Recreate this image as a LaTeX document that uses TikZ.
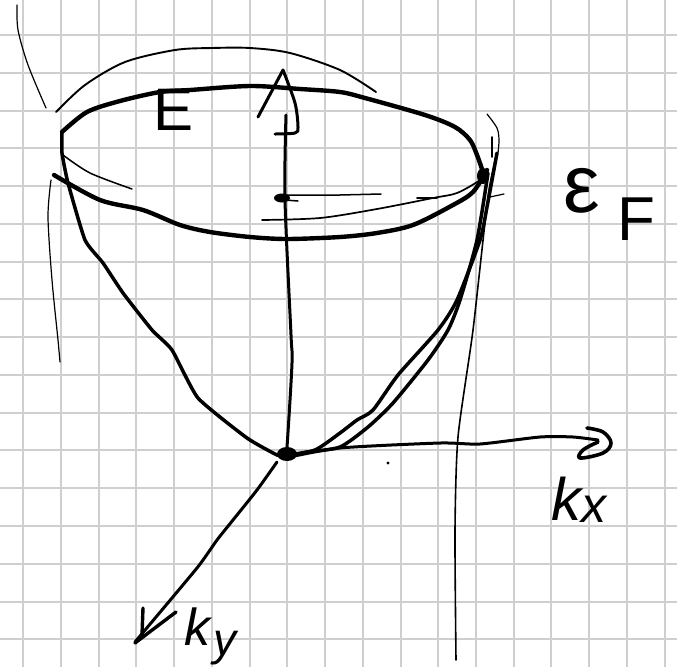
\documentclass[tikz,border=0pt]{standalone}
\usepackage{fontspec}
\setmainfont{Liberation Sans}
\usetikzlibrary{positioning}
\newcommand{\hand}[1]{\fontsize{#1}{#1}\selectfont}

\begin{document}
\begin{tikzpicture}[
  x=1pt, y=-1pt,
  gridline/.style={draw=black!19, line width=2pt},
  heavy/.style={line width=4.4pt, line cap=round, line join=round},
  cupline/.style={line width=3.5pt, line cap=round, line join=round},
  axisline/.style={line width=3pt, line cap=round, line join=round},
  wall/.style={line width=1.9pt, line cap=round},
  hair/.style={line width=1.2pt, line cap=round},
  lab/.style={inner sep=0pt, anchor=base},
]
\useasboundingbox (0,0) rectangle (677,667);

% ---------- squared paper ----------
\foreach \gx in {0,...,17} {
  \draw[gridline] ({23.2+\gx*37.73},0) -- ({23.2+\gx*37.73},667);
}
\foreach \gy in {0,...,16} {
  \draw[gridline] (0,{35+\gy*37.77}) -- (677,{35+\gy*37.77});
}

% ---------- the axes ----------
\draw[axisline] plot[smooth] coordinates {(286,115) (285,200) (291,335) (292,363) (287,447) (285,458)};
\draw[axisline] (258,117) -- (283,70);
\draw[axisline] plot[smooth, tension=0.5] coordinates {(283,70) (295,103) (298,127) (295,133) (275,134)};
\draw[axisline] plot[smooth, tension=0.4] coordinates {(285,458) (340,448) (440,443) (480,444) (540,437) (573,437) (598,440)};
\draw[axisline, line width=3.6pt] plot[smooth, tension=0.6] coordinates {(587,428) (603,432) (611,443) (603,453) (580,458) (583,450) (598,442)};
\draw[axisline] plot[smooth, tension=0.3] coordinates {(277,462) (257,490) (233,520) (217,540) (197,568) (135,642)};
\draw[axisline, line width=3.4pt] (143,608) -- (142,635) -- (135,643) -- (176,612);

% ---------- the cup ----------
\draw[heavy] plot[smooth, tension=0.5] coordinates {(62,132) (87,112) (120,101) (160,92) (190,90) (250,86)
  (300,89) (340,92) (365,98) (425,115) (455,127) (470,140) (477,155) (483,172)};
\draw[heavy] plot[smooth, tension=0.5] coordinates {(54,175) (100,200) (143,210) (180,225) (210,232) (250,237)
  (287,239) (340,237) (377,233) (413,225) (453,205) (473,192) (487,170)};
\draw[cupline] plot[smooth, tension=0.3] coordinates {(62,132) (62,153) (68,183) (85,240) (103,263)
  (123,293) (152,330) (172,350) (198,398) (247,438) (277,455) (285,456)};
\draw[cupline] plot[smooth, tension=0.4] coordinates {(497,153) (487,207) (480,240) (457,300)
  (438,330) (398,375) (373,410) (357,420) (340,433) (315,450) (285,456)};
\draw[cupline] plot[smooth, tension=0.4] coordinates {(488,173) (477,240) (460,300) (448,330)
  (428,360) (393,403) (368,427) (340,447) (307,452) (285,456)};

% ---------- thin strokes ----------
\draw[wall] plot[smooth] coordinates {(56,112) (85,85) (125,62) (175,50) (212,48) (250,48) (290,53) (340,70) (376,92)};
\draw[hair] plot[smooth] coordinates {(17,5) (18,30) (28,65) (46,108)};
\draw[hair, line width=1.5pt] plot[smooth] coordinates {(63,155) (90,173) (132,189)};
\draw[hair] plot[smooth] coordinates {(51,180) (48,217) (52,280) (58,340) (60,362)};
\draw[hair, line width=1.5pt] (285,195) -- (340,195) -- (381,194);
\draw[hair, line width=1.5pt] (285,200) -- (298,201);
\draw[hair, line width=1.7pt] plot[smooth] coordinates {(262,220) (320,218) (377,209) (433,198) (457,193) (480,180) (488,170)};
\draw[hair, line width=1.7pt] (417,198) -- (437,198);
\draw[hair] (490,197) -- (504,194);
\draw[hair] plot[smooth] coordinates {(487,114) (497,128) (499,140) (498,153)};
\draw[hair, line width=1.6pt] (492,137) -- (492,157);
\draw[hair, line width=1.6pt] plot[smooth, tension=0.4] coordinates {(497,153) (488,197) (473,330) (458,437) (455,530) (456,660)};

% ---------- dots ----------
\fill (282,198) ellipse (8pt and 4.5pt);
\fill (287,454) ellipse (10pt and 7pt);
\fill (388,463) circle (1.7pt);
\fill (483,176) ellipse (6pt and 8pt);

% ---------- labels ----------
\node[lab, font=\hand{60}] (energy) at (174,130) {E};
\node[lab, font=\hand{82}] (fermi) at (582,212) {ε};
\node[lab, font=\hand{62}] (fermisub) at (636,240) {F};
\node[lab, font=\hand{60}\itshape] (kxk) at (566,520) {k};
\node[lab, font=\hand{50}\itshape] (kxs) at (594,522) {x};
\node[lab, font=\hand{52}\itshape] (kyk) at (197,645) {k};
\node[lab, font=\hand{46}\itshape] (kys) at (225,655) {y};
\end{tikzpicture}
\end{document}
